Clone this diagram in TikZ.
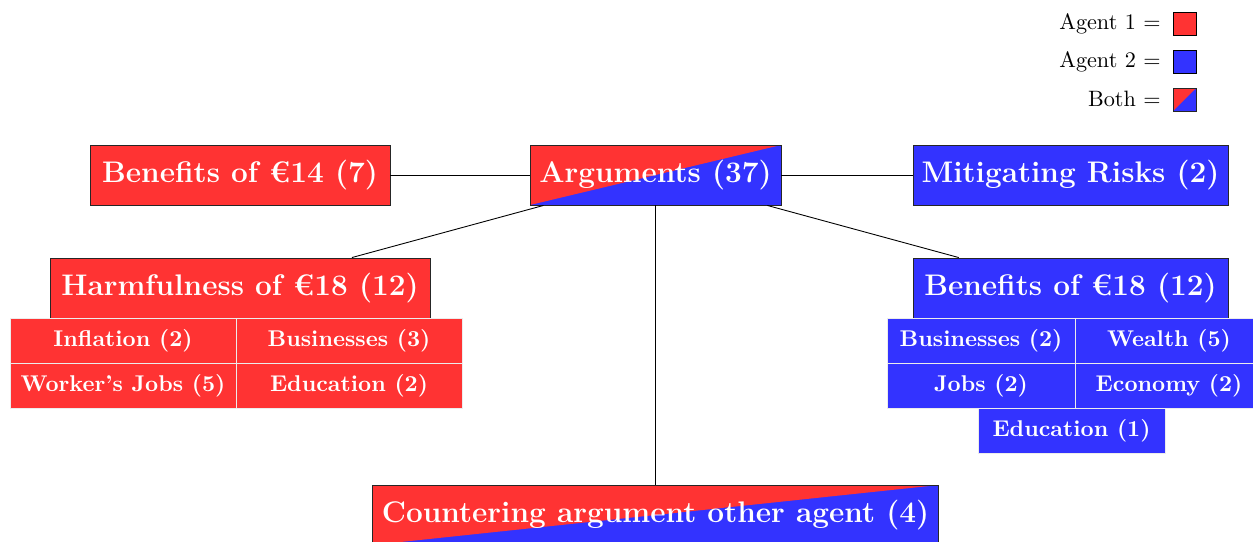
\documentclass[tikz,border=0pt]{standalone}
\usepackage{fontspec}
\begin{document}
\definecolor{agentred}{RGB}{255,51,51}
\definecolor{agentblue}{RGB}{51,51,255}
\begin{tikzpicture}[x=0.45pt,y=-0.45pt,
  topic/.style={draw=black!85,line width=0.4pt,text=white,inner xsep=2pt,inner ysep=0pt,
    minimum height=27pt,font=\fontsize{13.4}{15}\selectfont\bfseries},
  redtopic/.style={topic,fill=agentred},
  bluetopic/.style={topic,fill=agentblue},
  splittopic/.style={topic,path picture={
      \fill[agentblue] (path picture bounding box.south west) rectangle (path picture bounding box.north east);
      \fill[agentred] (path picture bounding box.south west) -- (path picture bounding box.north west)
        -- (path picture bounding box.north east) -- cycle;}},
  cell/.style={draw=white!85!gray,line width=0.4pt,text=white,inner sep=0pt,
    minimum height=20.25pt,font=\fontsize{10.25}{12}\selectfont\bfseries},
  redcell/.style={cell,fill=agentred,minimum width=101.7pt},
  bluecell/.style={cell,fill=agentblue,minimum width=84.6pt},
  key/.style={draw=black,line width=0.4pt,minimum size=10.35pt,inner sep=0pt},
  keytext/.style={anchor=base east,inner sep=0pt,font=\fontsize{10}{12}\selectfont},
  link/.style={draw=black,line width=0.4pt}]
\useasboundingbox (0,0) rectangle (1253,541);

% legend
\node[key,fill=agentred] (k1) at (1184.5,23.5) {};
\node[key,fill=agentblue] (k2) at (1184.5,61.5) {};
\node[key,splittopic,minimum height=10.35pt,minimum width=10.35pt,inner sep=0pt] (k3) at (1184.5,99.5) {};
\node[keytext] (t1) at (1161,29) {Agent 1 $=$};
\node[keytext] (t2) at (1161,67) {Agent 2 $=$};
\node[keytext] (t3) at (1161,106) {Both $=$};

% main topics
\node[splittopic,minimum width=112.95pt] (args) at (655.5,175) {Arguments (37)};
\node[redtopic,minimum width=135pt] (b14) at (240,175) {Benefits of €14 (7)};
\node[bluetopic,minimum width=141.75pt] (mit) at (1070.5,175) {Mitigating Risks (2)};
\node[redtopic,minimum width=171pt] (harm) at (240,288) {Harmfulness of €18 (12)};
\node[bluetopic,minimum width=141.75pt] (b18) at (1070.5,288) {Benefits of €18 (12)};
\node[splittopic,minimum width=254.7pt] (counter) at (655.5,515) {Countering argument other agent (4)};

% sub-arguments of Harmfulness
\node[redcell] (h1) at (123,340.5) {Inflation (2)};
\node[redcell] (h2) at (349,340.5) {Businesses (3)};
\node[redcell] (h3) at (123,385.5) {Worker’s Jobs (5)};
\node[redcell] (h4) at (349,385.5) {Education (2)};

% sub-arguments of Benefits of 18
\node[bluecell] (e1) at (981,340.5) {Businesses (2)};
\node[bluecell] (e2) at (1169,340.5) {Wealth (5)};
\node[bluecell] (e3) at (981,385.5) {Jobs (2)};
\node[bluecell] (e4) at (1169,385.5) {Economy (2)};
\node[bluecell,minimum width=84.15pt] (e5) at (1071.5,430.5) {Education (1)};

% connectors
\draw[link] (b14) -- (args);
\draw[link] (args) -- (mit);
\draw[link] (args) -- (harm);
\draw[link] (args) -- (b18);
\draw[link] (args) -- (counter);
\end{tikzpicture}
\end{document}
